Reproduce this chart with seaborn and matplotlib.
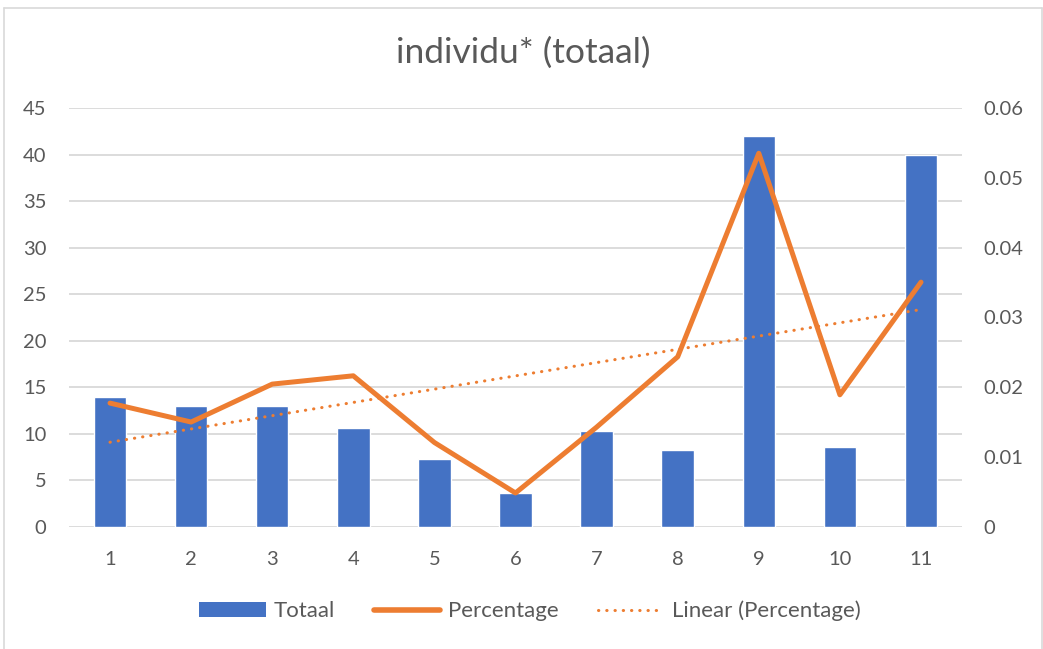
import numpy as np
import pandas as pd
import matplotlib
matplotlib.use("Agg")
import matplotlib.pyplot as plt
import seaborn as sns
from matplotlib.patches import Patch
from matplotlib.lines import Line2D

categories = [1, 2, 3, 4, 5, 6, 7, 8, 9, 10, 11]
totaal = [14, 13, 13, 10.6, 7.3, 3.65, 10.3, 8.3, 42, 8.6, 40]
percentage = [0.01774, 0.01503, 0.02046, 0.02165, 0.0121, 0.00487,
              0.0143, 0.02437, 0.05352, 0.01893, 0.03506]
left_ticks = [0, 5, 10, 15, 20, 25, 30, 35, 40, 45]
right_ticks = [0, 0.01, 0.02, 0.03, 0.04, 0.05, 0.06]
right_labels = ["0", "0.01", "0.02", "0.03", "0.04", "0.05", "0.06"]

BLUE = "#4472C4"
ORANGE = "#ED7D31"
GRAY = "#595959"
GRID = "#D9D9D9"
FS = 14.5

sns.set_theme(style="white")
plt.rcParams['font.family'] = ['Lato', 'DejaVu Sans']

df = pd.DataFrame({"x": categories, "Totaal": totaal, "Percentage": percentage})
slope, intercept = np.polyfit(df["x"], df["Percentage"], 1)
df["Trend"] = slope * df["x"] + intercept

fig = plt.figure(figsize=(10.43, 6.49), dpi=100)
ax = fig.add_axes([0.0666, 0.188, 0.8553, 0.6456])

sns.barplot(data=df, x="x", y="Totaal", native_scale=True, width=0.4,
            color=BLUE, saturation=1, ax=ax, zorder=2)
ax.set_xlim(0.5, 11.5)
ax.set_ylim(0, 45)
ax.set_yticks(left_ticks)
ax.set_xticks(categories)
ax.set_xticklabels([str(c) for c in categories])
ax.grid(axis="y", color=GRID, linewidth=1.3, zorder=0)
ax.set_axisbelow(True)
for s in ax.spines.values():
    s.set_visible(False)
ax.set_xlabel("")
ax.set_ylabel("")
ax.tick_params(axis="both", length=0, labelsize=FS, labelcolor=GRAY)
ax.tick_params(axis="y", pad=16.5)
ax.tick_params(axis="x", pad=17)

ax2 = ax.twinx()
sns.lineplot(data=df, x="x", y="Percentage", color=ORANGE, linewidth=3.6,
             ax=ax2, solid_capstyle="round", solid_joinstyle="round")
sns.lineplot(data=df, x="x", y="Trend", color=ORANGE, linewidth=2.2,
             ax=ax2, dashes=False)
ax2.lines[-1].set_linestyle((0, (0.1, 2.6)))
ax2.lines[-1].set_dash_capstyle("round")
ax2.set_ylim(0, 0.06)
ax2.set_yticks(right_ticks)
ax2.set_yticklabels(right_labels)
for s in ax2.spines.values():
    s.set_visible(False)
ax2.set_ylabel("")
ax2.set_xlabel("")
ax2.tick_params(axis="y", length=0, labelsize=FS, labelcolor=GRAY, pad=15.5)
ax.set_xlim(0.5, 11.5)

fig.text(0.5015, 0.918, "individu* (totaal)", ha="center", va="center",
         fontsize=25.5, color=GRAY)

handles = [
    Patch(facecolor=BLUE, edgecolor="none"),
    Line2D([], [], color=ORANGE, linewidth=4, solid_capstyle="round"),
    Line2D([], [], color=ORANGE, linewidth=2.2, linestyle=(0, (0.1, 2.6)),
           dash_capstyle="round"),
]
fig.legend(handles, ["Totaal", "Percentage", "Linear (Percentage)"],
           loc="center", bbox_to_anchor=(0.508, 0.0586), ncol=3, frameon=False,
           fontsize=16, labelcolor=GRAY, handlelength=3.0, columnspacing=1.75,
           handletextpad=0.35, handleheight=0.65)

x0, x1, ytop = 4 / 1043, 1041.5 / 1043, 1 - 8 / 649
for xs, ys in [((x0, x1), (ytop, ytop)), ((x0, x0), (0, ytop)), ((x1, x1), (0, ytop))]:
    fig.add_artist(Line2D(xs, ys, transform=fig.transFigure, color="#D9D9D9", linewidth=1.2))
fig.savefig("out.png", dpi=100)
